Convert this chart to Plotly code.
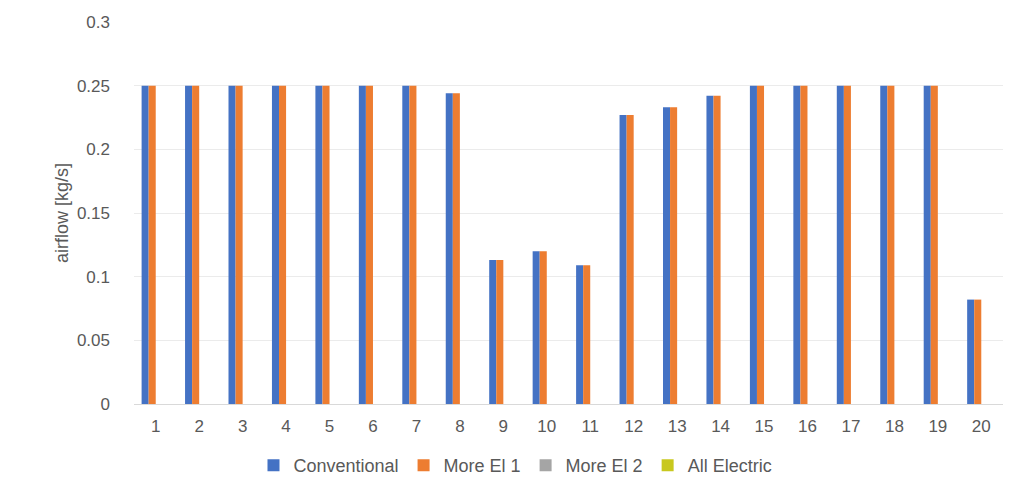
import plotly.graph_objects as go

categories = [str(i) for i in range(1, 21)]
conventional = [0.25, 0.25, 0.25, 0.25, 0.25, 0.25, 0.25, 0.244, 0.113, 0.120,
                0.109, 0.227, 0.233, 0.242, 0.25, 0.25, 0.25, 0.25, 0.25, 0.082]
more_el_1 = [0.25, 0.25, 0.25, 0.25, 0.25, 0.25, 0.25, 0.244, 0.113, 0.120,
             0.109, 0.227, 0.233, 0.242, 0.25, 0.25, 0.25, 0.25, 0.25, 0.082]
more_el_2 = [0] * 20
all_electric = [0] * 20

y_ticks = [0, 0.05, 0.1, 0.15, 0.2, 0.25, 0.3]
y_tick_text = ["0", "0.05", "0.1", "0.15", "0.2", "0.25", "0.3"]

series = [
    ("Conventional", conventional, "#4472C4"),
    ("More El 1", more_el_1, "#ED7D31"),
    ("More El 2", more_el_2, "#A5A5A5"),
    ("All Electric", all_electric, "#C8C81E"),
]

fig = go.Figure()
for name, vals, color in series:
    fig.add_trace(go.Bar(x=categories, y=vals, name=name, marker_color=color,
                         marker_line_width=0))

font_color = "#595959"
fig.update_layout(
    width=1031, height=495,
    margin=dict(l=126, r=36, t=14, b=99, autoexpand=False),
    paper_bgcolor="white", plot_bgcolor="white",
    barmode="group", bargap=0.35, bargroupgap=0,
    font=dict(family="Liberation Sans, Arial, sans-serif", size=16, color=font_color),
    legend=dict(orientation="h", x=0.439, xanchor="center", y=-0.113, yanchor="top",
                font=dict(size=18, color=font_color), itemwidth=30,
                traceorder="normal"),
    showlegend=True,
)
fig.update_xaxes(type="category", showgrid=False, showline=False, ticks="",
                 ticklabelstandoff=10,
                 tickfont=dict(size=17, color=font_color))
fig.update_yaxes(range=[0, 0.3], tickvals=y_ticks, ticktext=y_tick_text,
                 showgrid=True, gridcolor="#EBEBEB", gridwidth=1,
                 zeroline=True, zerolinecolor="#D9D9D9", zerolinewidth=1,
                 showline=False, ticks="", ticklabelstandoff=23,
                 tickfont=dict(size=17, color=font_color),
                 title=dict(text="airflow [kg/s]", font=dict(size=18, color=font_color),
                            standoff=3))

fig.write_html("out.html")
